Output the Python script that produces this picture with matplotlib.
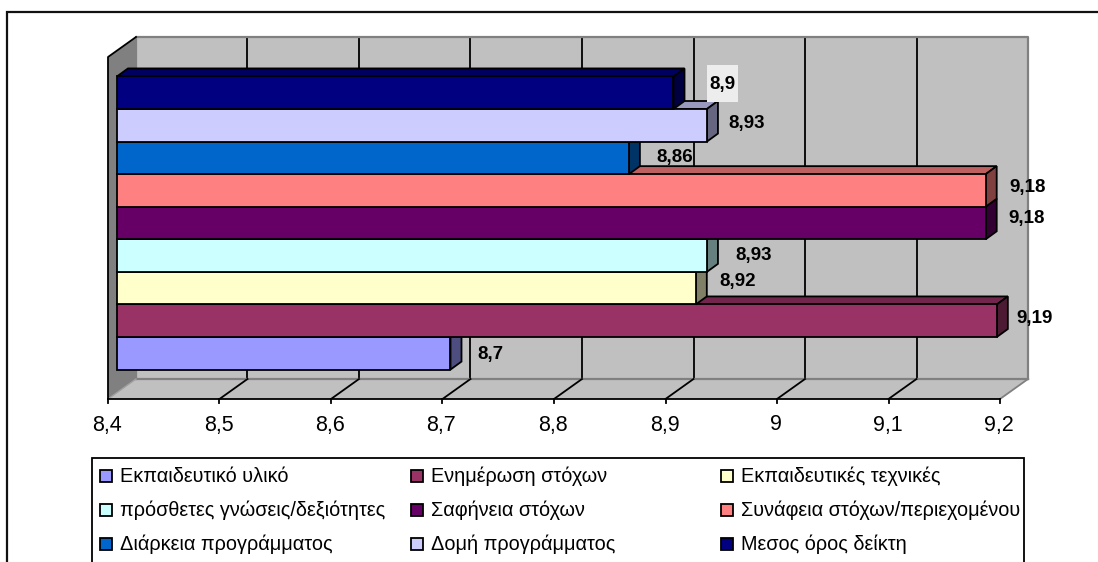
import matplotlib
matplotlib.use("Agg")
import matplotlib.pyplot as plt
from matplotlib.patches import Polygon, Rectangle
from matplotlib.transforms import Affine2D
import matplotlib.colors as mcolors
import numpy as np

series_names = [
    "Εκπαιδευτικό υλικό",
    "Ενημέρωση στόχων",
    "Εκπαιδευτικές τεχνικές",
    "πρόσθετες γνώσεις/δεξιότητες",
    "Σαφήνεια στόχων",
    "Συνάφεια στόχων/περιεχομένου",
    "Διάρκεια προγράμματος",
    "Δομή προγράμματος",
    "Μεσος όρος δείκτη",
]
series_values = [8.7, 9.19, 8.92, 8.93, 9.18, 9.18, 8.86, 8.93, 8.9]
series_colors = [
    "#9999FF", "#993366", "#FFFFCC", "#CCFFFF", "#660066",
    "#FF8080", "#0066CC", "#CCCCFF", "#000080",
]
x_ticks = [8.4, 8.5, 8.6, 8.7, 8.8, 8.9, 9.0, 9.1, 9.2]
x_tick_labels = ["8,4", "8,5", "8,6", "8,7", "8,8", "8,9", "9", "9,1", "9,2"]
value_labels = ["8,7", "9,19", "8,92", "8,93", "9,18", "9,18", "8,86", "8,93", "8,9"]

# label nudges in pixels from the bar end (these were placed by hand)
label_nudges = [(48, 4), (46, 7), (50, 12), (55, 5), (49, 9), (50, 8), (54, 5), (48, 7), (57, 13)]

W, H = 1098, 562
DPI = 100
FONT = "Liberation Sans"

# depth of the 3D box and of the bars, in pixels
WALL_DX, WALL_DY = 28, 20
BAR_DX, BAR_DY = 11, 8
BAR_SHIFT_X, BAR_SHIFT_Y = 8, 5
LINE = 1.3

fig = plt.figure(figsize=(W / DPI, H / DPI), dpi=DPI)
fig.patch.set_facecolor("white")

# pixel coordinates for the frame and the legend
overlay = fig.add_axes([0, 0, 1, 1], zorder=1)
overlay.set_xlim(0, W)
overlay.set_ylim(H, 0)
overlay.axis("off")

overlay.plot([7, 7, W + 5], [H + 5, 12, 12], color="#111111", lw=1.6, solid_joinstyle="miter")

# main axes: x spans the front edge of the floor
left, right, bottom, top = 108, 1000, 399, 57
ax = fig.add_axes([left / W, 1 - bottom / H, (right - left) / W, (bottom - top) / H], zorder=2)
ax.set_xlim(8.4, 9.2)
ax.set_ylim(-1.25, 9.25)
ax.axis("off")
x0, x1 = ax.get_xlim()
y0, y1 = ax.get_ylim()
px_per_x = (right - left) / (x1 - x0)
px_per_y = (bottom - top) / (y1 - y0)


def offset(dx, dy):
    return ax.transData + Affine2D().translate(dx, dy)


back = offset(WALL_DX, WALL_DY)
wall_dx = WALL_DX / px_per_x
wall_dy = WALL_DY / px_per_y

# back wall, floor and left wall
ax.add_patch(Rectangle((x0, y0), x1 - x0, y1 - y0, transform=back, fc="#C0C0C0", ec="none", clip_on=False, zorder=1))
ax.add_patch(Polygon([(x0, y0), (x1, y0), (x1 + wall_dx, y0 + wall_dy), (x0 + wall_dx, y0 + wall_dy)],
                     closed=True, fc="#C0C0C0", ec="none", clip_on=False, zorder=1.1))
ax.add_patch(Polygon([(x0, y0), (x0 + wall_dx, y0 + wall_dy), (x0 + wall_dx, y1 + wall_dy), (x0, y1)],
                     closed=True, fc="#808080", ec="none", clip_on=False, zorder=1.2))

for t in x_ticks[1:-1]:
    ax.plot([t, t], [y0, y1], transform=back, color="black", lw=LINE, clip_on=False, zorder=1.25)
    ax.plot([t, t + wall_dx], [y0, y0 + wall_dy], color="black", lw=LINE, clip_on=False, zorder=1.3)

# wall outlines
ax.plot([x0, x0, x1, x1], [y0, y1, y1, y0], transform=back, color="#808080", lw=1.6, clip_on=False, zorder=1.27)
ax.plot([x0, x1], [y0, y0], transform=back, color="#808080", lw=1.6, clip_on=False, zorder=1.27)
ax.plot([x0, x0 + wall_dx], [y0, y0 + wall_dy], color="#A0A0A0", lw=1, clip_on=False, zorder=1.3)
ax.plot([x1, x1 + wall_dx], [y0, y0 + wall_dy], color="#808080", lw=LINE, clip_on=False, zorder=1.3)
ax.plot([x0, x0, x0 + wall_dx], [y0, y1, y1 + wall_dy], color="black", lw=LINE, clip_on=False, zorder=1.3)
ax.plot([x0, x1], [y0, y0], color="black", lw=LINE, clip_on=False, zorder=1.3)

# x axis ticks and labels
tick_len = 4 / px_per_y
for t, lab in zip(x_ticks, x_tick_labels):
    ax.plot([t, t], [y0, y0 - tick_len], color="black", lw=LINE, clip_on=False, zorder=1.3)
    ax.annotate(lab, xy=(t, y0), xytext=(-1, -26), textcoords="offset pixels", ha="center", va="center",
                fontsize=15.5, family=FONT, color="black", annotation_clip=False)

# bars, bottom row first so each front face covers the top face of the row below
front = offset(BAR_SHIFT_X, BAR_SHIFT_Y)
bar_dx = BAR_DX / px_per_x
bar_dy = BAR_DY / px_per_y
bar_start = x0 + 1 / px_per_x
for i, (value, color) in enumerate(zip(series_values, series_colors)):
    rgb = np.array(mcolors.to_rgb(color))
    z = 2 + i * 0.1
    low, high = i - 0.5, i + 0.5
    top_face = [(bar_start, high), (value, high), (value + bar_dx, high + bar_dy), (bar_start + bar_dx, high + bar_dy)]
    side_face = [(value, low), (value, high), (value + bar_dx, high + bar_dy), (value + bar_dx, low + bar_dy)]
    ax.add_patch(Polygon(top_face, closed=True, transform=front, fc=rgb * 0.75, ec="black", lw=LINE, clip_on=False, zorder=z))
    ax.add_patch(Polygon(side_face, closed=True, transform=front, fc=rgb * 0.5, ec="black", lw=LINE, clip_on=False, zorder=z))
    ax.barh(i, value - bar_start, left=bar_start, height=1, transform=front, color=color, edgecolor="black", lw=LINE,
            clip_on=False, zorder=z + 0.01)

# pale backing behind the top data label
ax.add_patch(Rectangle((707, 65), 31, 37, transform=overlay.transData, fc="#EDEDED", ec="none", clip_on=False, zorder=5))

for i, (value, lab, nudge) in enumerate(zip(series_values, value_labels, label_nudges)):
    ax.annotate(lab, xy=(value, i), xytext=nudge, textcoords="offset pixels", ha="center", va="center",
                fontsize=13.5, fontweight="bold", family=FONT, color="black", annotation_clip=False, zorder=6)

# legend, filled row by row
legend_cols = [100, 411, 721]
legend_rows = [476, 510, 544]
overlay.plot([92, 92, 1024, 1024], [H + 5, 458, 458, H + 5], color="black", lw=LINE, solid_joinstyle="miter")
for i, (name, color) in enumerate(zip(series_names, series_colors)):
    sx = legend_cols[i % 3]
    sy = legend_rows[i // 3]
    overlay.add_patch(Rectangle((sx, sy - 6), 12, 12, fc=color, ec="black", lw=LINE))
    overlay.text(sx + 20, sy, name, ha="left", va="center", fontsize=14.3, family=FONT, color="black")

fig.savefig("out.png", dpi=DPI, facecolor="white")
